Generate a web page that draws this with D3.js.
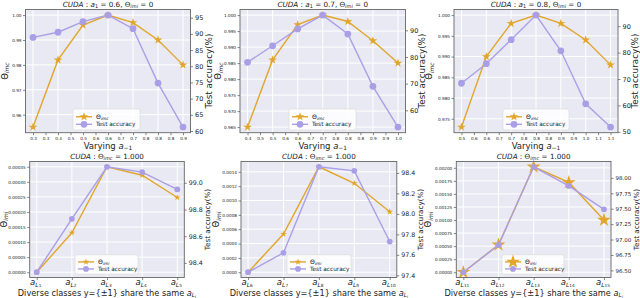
<!DOCTYPE html>
<html>
<head>
<meta charset="utf-8">
<title>CUDA sweeps</title>
<script src="https://d3js.org/d3.v7.min.js"></script>
<style>
  body { margin: 0; background: #fff; }
  svg { display: block; font-family: "DejaVu Sans", sans-serif; }
</style>
</head>
<body>
<svg id="chart" width="640" height="298"></svg>
<script>
// ---- top row: varying a_-1 ----
const varyA1 = [0.3, 0.4, 0.5, 0.6, 0.7, 0.8, 0.9];
const imc1 = [0.955, 0.982, 0.996, 1.000, 0.997, 0.990, 0.980];
const acc1 = [88.9, 90.5, 93.8, 95.8, 91.6, 74.8, 61.2];

const varyA2 = [0.4, 0.5, 0.6, 0.7, 0.8, 0.9, 1.0];
const imc2 = [0.965, 0.986, 0.997, 1.000, 0.998, 0.992, 0.985];
const acc2 = [78.0, 84.2, 90.5, 95.7, 88.6, 69.0, 53.7];

const varyA3 = [0.5, 0.6, 0.7, 0.8, 0.9, 1.0, 1.1];
const imc3 = [0.973, 0.990, 0.998, 1.000, 0.998, 0.994, 0.988];
const acc3 = [68.4, 75.8, 84.9, 94.2, 80.7, 60.6, 51.8];

// ---- bottom row: classes sharing a_{L_i} ----
const cats4 = ["1", "2", "3", "4", "5"];
const imi4 = [0, 0.000131, 0.000350, 0.000322, 0.000248];
const acc4b = [98.33, 98.73, 99.12, 99.08, 98.95];

const cats5 = ["6", "7", "8", "9", "10"];
const imi5 = [0, 0.000532, 0.00147, 0.00124, 0.000842];
const acc5b = [97.43, 97.62, 98.46, 98.42, 97.73];

const cats6 = ["11", "12", "13", "14", "15"];
const imi6 = [0, 0.000525, 0.00202, 0.00172, 0.00100];
const acc6b = [96.47, 96.91, 98.18, 97.87, 97.49];

// tick labels
const lt1 = [0.96, 0.97, 0.98, 0.99, 1.00], rt1 = [60, 65, 70, 75, 80, 85, 90, 95];
const lt2 = [0.965, 0.970, 0.975, 0.980, 0.985, 0.990, 0.995, 1.000], rt2 = [60, 70, 80, 90];
const lt3 = [0.975, 0.980, 0.985, 0.990, 0.995, 1.000], rt3 = [50, 60, 70, 80, 90];
const lt4 = [0, 0.00005, 0.0001, 0.00015, 0.0002, 0.00025, 0.0003, 0.00035], rt4 = [98.4, 98.6, 98.8, 99.0];
const lt5 = [0, 0.0002, 0.0004, 0.0006, 0.0008, 0.0010, 0.0012, 0.0014], rt5 = [97.4, 97.6, 97.8, 98.0, 98.2, 98.4];
const lt6 = [0, 0.00025, 0.0005, 0.00075, 0.001, 0.00125, 0.0015, 0.00175, 0.002], rt6 = [96.5, 96.75, 97.0, 97.25, 97.5, 97.75, 98.0];

const GOLD = "#e1a62b", PURPLE = "#aa9fe7";
const svg = d3.select("#chart");

// minimal mathtext: parts = [{t, it, sub}] with sub = 0/1/2
function rich(sel, parts, size) {
  let shift = 0;
  parts.forEach(p => {
    const lvl = p.sub || 0;
    const target = [0, size * 0.2, size * 0.3][lvl];
    const fs = [size, size * 0.7, size * 0.5][lvl];
    const ts = sel.append("tspan").attr("dy", target - shift).attr("font-size", fs).text(p.t);
    if (p.it) ts.attr("font-style", "italic");
    shift = target;
  });
}

const pad5 = a => { const e = d3.extent(a), m = (e[1] - e[0]) * 0.05; return [e[0] - m, e[1] + m]; };

function drawPanel(p) {
  const g = svg.append("g");
  const xs = p.xs;
  const x = p.top
    ? d3.scaleLinear().domain(pad5(xs)).range([p.l, p.r])
    : d3.scalePoint().domain(xs).range([p.l, p.r]).padding(0.2);
  const yL = d3.scaleLinear().domain(pad5(p.left)).range([p.b, p.t]);
  const yR = d3.scaleLinear().domain(pad5(p.right)).range([p.b, p.t]);

  g.append("rect").attr("x", p.l).attr("y", p.t).attr("width", p.r - p.l).attr("height", p.b - p.t)
    .attr("fill", "#e9e9f3");

  // grid
  g.selectAll("line.gx").data(xs).join("line").attr("class", "gx")
    .attr("x1", d => x(d)).attr("x2", d => x(d)).attr("y1", p.t).attr("y2", p.b)
    .attr("stroke", "#fff").attr("stroke-width", 1);
  g.selectAll("line.gy").data(p.lt).join("line").attr("class", "gy")
    .attr("x1", p.l).attr("x2", p.r).attr("y1", d => yL(d)).attr("y2", d => yL(d))
    .attr("stroke", "#fff").attr("stroke-width", 1);

  // series
  const lineL = d3.line().x((d, i) => x(xs[i])).y(d => yL(d));
  const lineR = d3.line().x((d, i) => x(xs[i])).y(d => yR(d));
  const star = d3.symbol().type(d3.symbolStar).size(p.starSize)();
  const dot = d3.symbol().type(d3.symbolCircle).size(p.dotSize)();

  g.append("path").attr("d", lineL(p.left)).attr("fill", "none").attr("stroke", GOLD).attr("stroke-width", 1.4);
  g.selectAll("path.st").data(p.left).join("path").attr("class", "st").attr("d", star)
    .attr("transform", (d, i) => `translate(${x(xs[i])},${yL(d)})`).attr("fill", GOLD);
  g.append("path").attr("d", lineR(p.right)).attr("fill", "none").attr("stroke", PURPLE).attr("stroke-width", 1.4);
  g.selectAll("path.dt").data(p.right).join("path").attr("class", "dt").attr("d", dot)
    .attr("transform", (d, i) => `translate(${x(xs[i])},${yR(d)})`).attr("fill", PURPLE);

  // frame
  g.append("rect").attr("x", p.l).attr("y", p.t).attr("width", p.r - p.l).attr("height", p.b - p.t)
    .attr("fill", "none").attr("stroke", "#666").attr("stroke-width", 0.9);

  // axes
  const ax = g.append("g").attr("transform", `translate(${p.l},0)`)
    .call(d3.axisLeft(yL).tickValues(p.lt).tickFormat(d3.format(p.lf)).tickSize(2.5).tickPadding(1.5));
  ax.selectAll("text").attr("font-size", 4.2).attr("fill", "#222");
  const axr = g.append("g").attr("transform", `translate(${p.r},0)`)
    .call(d3.axisRight(yR).tickValues(p.rt).tickFormat(d3.format(p.rf)).tickSize(2.5).tickPadding(2));
  axr.selectAll("text").attr("font-size", p.rfs).attr("fill", "#222");
  const axb = g.append("g").attr("transform", `translate(0,${p.b})`)
    .call(d3.axisBottom(x).tickSize(2.5).tickPadding(1.5).tickFormat(p.top ? d3.format(".1f") : () => ""));
  axb.selectAll("text").attr("font-size", 4.2).attr("fill", "#222");
  [ax, axr, axb].forEach(a => {
    a.select(".domain").remove();
    a.selectAll("line").attr("stroke", "#555").attr("stroke-width", 0.7);
    a.attr("font-family", null);
  });

  if (!p.top) {
    xs.forEach(c => {
      const t = g.append("text").attr("x", x(c) - 1).attr("y", p.b + 7.3).attr("text-anchor", "middle").attr("fill", "#222");
      rich(t, [{ t: "a", it: true }, { t: "L", it: true, sub: 1 }, { t: c, sub: 2 }], 8.5);
    });
  }

  const cx = (p.l + p.r) / 2, cy = (p.t + p.b) / 2;

  // title
  const tt = g.append("text").attr("x", cx).attr("y", p.t - 3).attr("text-anchor", "middle").attr("fill", "#222");
  rich(tt, p.title, 7.2);

  // x label
  const xl = g.append("text").attr("x", cx).attr("y", p.top ? p.b + 16 : p.b + 18.3).attr("text-anchor", "middle").attr("fill", "#222");
  if (p.top) rich(xl, [{ t: "Varying " }, { t: "a", it: true }, { t: "\u22121", sub: 1 }], 8.5);
  else rich(xl, [{ t: "Diverse classes y={\u00b11} share the same " }, { t: "a", it: true }, { t: "L", it: true, sub: 1 }, { t: "i", it: true, sub: 2 }], 8.2);

  // y labels
  const yl = g.append("text").attr("transform", `translate(${p.yl},${cy}) rotate(-90)`).attr("text-anchor", "middle").attr("fill", "#222");
  rich(yl, [{ t: "\u0398" }, { t: p.top ? "imc" : "imi", it: true, sub: 1 }], 8.5);
  g.append("text").attr("transform", `translate(${p.yr},${cy}) rotate(-90)`).attr("text-anchor", "middle")
    .attr("font-size", p.top ? 8.8 : 7.2).attr("fill", "#222").text("Test accuracy(%)");

  // legend
  const lg = g.append("g").attr("transform", `translate(${p.lx},${p.ly})`);
  lg.append("rect").attr("width", p.lw).attr("height", p.lh).attr("rx", 2)
    .attr("fill", "#fff").attr("fill-opacity", 0.85).attr("stroke", "#d8d8d8").attr("stroke-width", 0.6);
  const e1 = p.lh * 0.37, e2 = p.lh * 0.73;
  lg.append("line").attr("x1", 3).attr("x2", 19).attr("y1", e1).attr("y2", e1).attr("stroke", GOLD).attr("stroke-width", 1.4);
  lg.append("path").attr("d", star).attr("transform", `translate(11,${e1})`).attr("fill", GOLD);
  lg.append("line").attr("x1", 3).attr("x2", 19).attr("y1", e2).attr("y2", e2).attr("stroke", PURPLE).attr("stroke-width", 1.4);
  lg.append("path").attr("d", dot).attr("transform", `translate(11,${e2})`).attr("fill", PURPLE);
  const l1 = lg.append("text").attr("x", 23).attr("y", e1 + 2).attr("fill", "#222");
  rich(l1, [{ t: "\u0398" }, { t: p.top ? "imc" : "imi", it: true, sub: 1 }], 6.2);
  lg.append("text").attr("x", 23).attr("y", e2 + 2).attr("font-size", 5.8).attr("fill", "#222").text("Test accuracy");
}

const topTitle = v => [{ t: "CUDA", it: true }, { t: " : " }, { t: "a", it: true }, { t: "1", sub: 1 },
  { t: " = " + v + ", \u0398" }, { t: "imi", it: true, sub: 1 }, { t: " = 0" }];
const botTitle = [{ t: "CUDA", it: true }, { t: " : \u0398" }, { t: "imc", it: true, sub: 1 }, { t: " = 1.000" }];

const common = { top: true, t: 9.5, b: 132.7, starSize: 24, dotSize: 36, rfs: 6.5, lh: 21, ly: 109 };
drawPanel({ ...common, xs: varyA1, left: imc1, right: acc1, lt: lt1, lf: ".2f", rt: rt1, rf: "d",
  l: 25.5, r: 190.5, yl: 7.5, yr: 211.5, lx: 73, lw: 67, title: topTitle("0.6") });
drawPanel({ ...common, xs: varyA2, left: imc2, right: acc2, lt: lt2, lf: ".3f", rt: rt2, rf: "d",
  l: 240, r: 405.5, yl: 221, yr: 424.5, lx: 289, lw: 67, title: topTitle("0.7") });
drawPanel({ ...common, xs: varyA3, left: imc3, right: acc3, lt: lt3, lf: ".3f", rt: rt3, rf: "d",
  l: 454, r: 618, yl: 432, yr: 638, lx: 503, lw: 66, title: topTitle("0.8") });

const bcommon = { top: false, t: 161.5, b: 277.5, dotSize: 26, lh: 19.5, ly: 254.7, title: botTitle };
drawPanel({ ...bcommon, xs: cats4, left: imi4, right: acc4b, lt: lt4, lf: ".5f", rt: rt4, rf: ".1f", rfs: 6.3,
  starSize: 14, l: 29.7, r: 184.3, yl: 6.5, yr: 210, lx: 75, lw: 63 });
drawPanel({ ...bcommon, xs: cats5, left: imi5, right: acc5b, lt: lt5, lf: ".4f", rt: rt5, rf: ".1f", rfs: 6.3,
  starSize: 14, l: 241, r: 396.8, yl: 219, yr: 423, lx: 287, lw: 64 });
drawPanel({ ...bcommon, xs: cats6, left: imi6, right: acc6b, lt: lt6, lf: ".5f", rt: rt6, rf: ".2f", rfs: 5.5,
  starSize: 60, l: 456.3, r: 611, yl: 431, yr: 638.5, lx: 502, lw: 62 });
</script>
</body>
</html>
